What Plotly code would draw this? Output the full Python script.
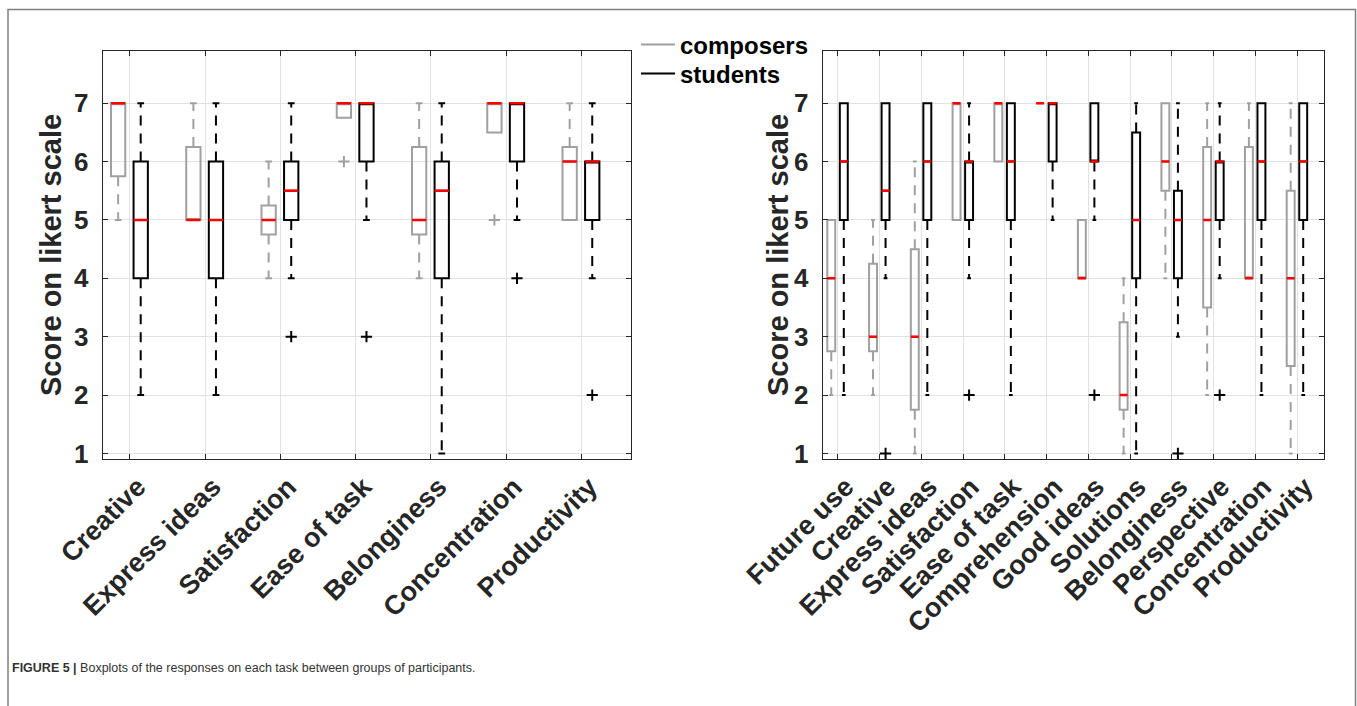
import plotly.graph_objects as go

# ---------------- data ----------------
LEFT_CATS = ["Creative", "Express ideas", "Satisfaction", "Ease of task",
             "Belonginess", "Concentration", "Productivity"]

LEFT_COMP_Q1 = [5.75, 5, 4.75, 6.75, 4.75, 6.5, 5]
LEFT_COMP_MED = [7, 5, 5, 7, 5, 7, 6]
LEFT_COMP_Q3 = [7, 6.25, 5.25, 7, 6.25, 7, 6.25]
LEFT_COMP_LW = [5, 5, 4, 6.75, 4, 6.5, 5]
LEFT_COMP_UW = [7, 7, 6, 7, 7, 7, 7]
LEFT_COMP_OUT = [[], [], [], [6], [], [5], []]

LEFT_STUD_Q1 = [4, 4, 5, 6, 4, 6, 5]
LEFT_STUD_MED = [5, 5, 5.5, 7, 5.5, 7, 6]
LEFT_STUD_Q3 = [6, 6, 6, 7, 6, 7, 6]
LEFT_STUD_LW = [2, 2, 4, 5, 1, 5, 4]
LEFT_STUD_UW = [7, 7, 7, 7, 7, 7, 7]
LEFT_STUD_OUT = [[], [], [3], [3], [], [4], [2]]

RIGHT_CATS = ["Future use", "Creative", "Express ideas", "Satisfaction",
              "Ease of task", "Comprehension", "Good ideas", "Solutions",
              "Belonginess", "Perspective", "Concentration", "Productivity"]

RIGHT_COMP_Q1 = [2.75, 2.75, 1.75, 5, 6, 7, 4, 1.75, 5.5, 3.5, 4, 2.5]
RIGHT_COMP_MED = [4, 3, 3, 7, 7, 7, 4, 2, 6, 5, 4, 4]
RIGHT_COMP_Q3 = [5, 4.25, 4.5, 7, 7, 7, 5, 3.25, 7, 6.25, 6.25, 5.5]
RIGHT_COMP_LW = [2, 2, 1, 5, 6, 7, 4, 1, 4, 2, 4, 1]
RIGHT_COMP_UW = [5, 5, 6, 7, 7, 7, 5, 4, 7, 7, 7, 7]
RIGHT_COMP_OUT = [[], [], [], [], [], [], [], [], [], [], [], []]

RIGHT_STUD_Q1 = [5, 5, 5, 5, 5, 6, 6, 4, 4, 5, 5, 5]
RIGHT_STUD_MED = [6, 5.5, 6, 6, 6, 7, 6, 5, 5, 6, 6, 6]
RIGHT_STUD_Q3 = [7, 7, 7, 6, 7, 7, 7, 6.5, 5.5, 6, 7, 7]
RIGHT_STUD_LW = [2, 4, 2, 4, 2, 5, 5, 1, 3, 4, 2, 2]
RIGHT_STUD_UW = [7, 7, 7, 7, 7, 7, 7, 7, 7, 7, 7, 7]
RIGHT_STUD_OUT = [[], [1], [], [2], [], [], [2], [], [1], [2], [], []]

Y_TICKS = [1, 2, 3, 4, 5, 6, 7]
GROUPS = ["composers", "students"]

# ---------------- style ----------------
W, H = 1357, 706
GRAY = "#A0A0A0"
BLACK = "#000000"
RED = "#FF0000"
TXT = "#262626"
FONT = "Liberation Sans, Arial, sans-serif"
OFFSET = {"composers": -0.155, "students": 0.145}
COLOR = {"composers": GRAY, "students": BLACK}
BOXW = 0.19
CAPW = 0.09

fig = go.Figure()


def add_group(group, q1, med, q3, lw, uw, outs, xa, ya):
    color = COLOR[group]
    pos = [i + 1 + OFFSET[group] for i in range(len(q1))]
    fig.add_trace(go.Box(
        x=pos, q1=q1, median=med, q3=q3, lowerfence=q1, upperfence=q3,
        width=BOXW, line=dict(color=color, width=2),
        fillcolor="rgba(0,0,0,0)", whiskerwidth=0, boxpoints=False,
        xaxis=xa, yaxis=ya, showlegend=False, hoverinfo="skip"))
    wx, wy, cx, cy = [], [], [], []
    for p, a, b, lo, hi in zip(pos, q1, q3, lw, uw):
        if hi > b:
            wx += [p, p, None]; wy += [b, hi, None]
            cx += [p - CAPW / 2, p + CAPW / 2, None]; cy += [hi, hi, None]
        if lo < a:
            wx += [p, p, None]; wy += [a, lo, None]
            cx += [p - CAPW / 2, p + CAPW / 2, None]; cy += [lo, lo, None]
    fig.add_trace(go.Scatter(x=wx, y=wy, mode="lines", xaxis=xa, yaxis=ya,
                             line=dict(color=color, width=2, dash="10px,8px"),
                             showlegend=False, hoverinfo="skip"))
    fig.add_trace(go.Scatter(x=cx, y=cy, mode="lines", xaxis=xa, yaxis=ya,
                             line=dict(color=color, width=2),
                             showlegend=False, hoverinfo="skip"))
    mx, my = [], []
    for p, m in zip(pos, med):
        mx += [p - BOXW / 2, p + BOXW / 2, None]; my += [m, m, None]
    fig.add_trace(go.Scatter(x=mx, y=my, mode="lines", xaxis=xa, yaxis=ya,
                             line=dict(color=RED, width=2.5),
                             showlegend=False, hoverinfo="skip"))
    ox, oy = [], []
    for p, vals in zip(pos, outs):
        for v in vals:
            ox.append(p); oy.append(v)
    if ox:
        fig.add_trace(go.Scatter(
            x=ox, y=oy, mode="markers", xaxis=xa, yaxis=ya,
            marker=dict(symbol="cross-thin", size=8, color=color,
                        line=dict(color=color, width=2)),
            showlegend=False, hoverinfo="skip"))


add_group("composers", LEFT_COMP_Q1, LEFT_COMP_MED, LEFT_COMP_Q3,
          LEFT_COMP_LW, LEFT_COMP_UW, LEFT_COMP_OUT, "x", "y")
add_group("students", LEFT_STUD_Q1, LEFT_STUD_MED, LEFT_STUD_Q3,
          LEFT_STUD_LW, LEFT_STUD_UW, LEFT_STUD_OUT, "x", "y")
add_group("composers", RIGHT_COMP_Q1, RIGHT_COMP_MED, RIGHT_COMP_Q3,
          RIGHT_COMP_LW, RIGHT_COMP_UW, RIGHT_COMP_OUT, "x2", "y2")
add_group("students", RIGHT_STUD_Q1, RIGHT_STUD_MED, RIGHT_STUD_Q3,
          RIGHT_STUD_LW, RIGHT_STUD_UW, RIGHT_STUD_OUT, "x2", "y2")

# legend entries (one legend per entry so each row can be placed exactly)
LEG_ROWS = {"composers": ("legend", 45), "students": ("legend2", 74)}
for g in GROUPS:
    fig.add_trace(go.Scatter(x=[None], y=[None], mode="lines", name=g,
                             legend=LEG_ROWS[g][0],
                             line=dict(color=COLOR[g], width=2),
                             xaxis="x", yaxis="y"))

axis_common = dict(showline=True, linecolor=TXT, linewidth=1, mirror="ticks",
                   ticks="inside", ticklen=5, tickcolor=TXT, tickwidth=1,
                   showgrid=True, gridcolor="#E2E2E2", gridwidth=1,
                   zeroline=False, automargin=False)

y_dom = [1 - 459.3 / H, 1 - 50.7 / H]

leg_common = dict(x=636 / W, xanchor="left", yanchor="middle",
                  bgcolor="rgba(0,0,0,0)", borderwidth=0, itemwidth=34,
                  font=dict(family=FONT, size=24, color=BLACK, weight="bold"))

fig.update_layout(
    width=W, height=H,
    margin=dict(l=0, r=0, t=0, b=0),
    paper_bgcolor="white", plot_bgcolor="white",
    boxmode="overlay",
    xaxis=dict(domain=[102.7 / W, 631.0 / W], range=[0.64, len(LEFT_CATS) + 0.66],
               tickvals=list(range(1, len(LEFT_CATS) + 1)), ticktext=LEFT_CATS,
               tickangle=-45, anchor="y", ticklabelshift=8,
               tickfont=dict(family=FONT, size=27, color=TXT, weight="bold"),
               **axis_common),
    yaxis=dict(domain=y_dom, range=[0.9, 7.9], tickvals=Y_TICKS, anchor="x",
               ticklabelstandoff=8,
               tickfont=dict(family=FONT, size=26, color=TXT, weight="bold"),
               **axis_common),
    xaxis2=dict(domain=[822.7 / W, 1324.3 / W], range=[0.64, len(RIGHT_CATS) + 0.65],
                tickvals=list(range(1, len(RIGHT_CATS) + 1)), ticktext=RIGHT_CATS,
                tickangle=-45, anchor="y2", ticklabelshift=8,
                tickfont=dict(family=FONT, size=27, color=TXT, weight="bold"),
                **axis_common),
    yaxis2=dict(domain=y_dom, range=[0.9, 7.9], tickvals=Y_TICKS, anchor="x2",
                ticklabelstandoff=8,
                tickfont=dict(family=FONT, size=26, color=TXT, weight="bold"),
                **axis_common),
    legend=dict(y=1 - LEG_ROWS["composers"][1] / H, **leg_common),
    legend2=dict(y=1 - LEG_ROWS["students"][1] / H, **leg_common),
    showlegend=True,
)

ymid = (y_dom[0] + y_dom[1]) / 2
for xc in (51 / W, 778 / W):
    fig.add_annotation(x=xc, y=ymid, xref="paper", yref="paper",
                       text="Score on likert scale", textangle=-90,
                       showarrow=False, xanchor="center", yanchor="middle",
                       font=dict(family=FONT, size=29, color=TXT, weight="bold"))

fig.add_annotation(x=10 / W, y=1 - 668 / H, xref="paper", yref="paper",
                   text="<b>FIGURE 5 |</b> Boxplots of the responses on each task between groups of participants.",
                   showarrow=False, xanchor="left", yanchor="middle",
                   font=dict(family=FONT, size=12.5, color="#333333"))

fig.add_shape(type="rect", xref="paper", yref="paper",
              x0=8 / W, x1=1355.5 / W, y0=-0.05, y1=1 - 9.5 / H,
              line=dict(color="#7F7F7F", width=1.5), layer="below")

fig.write_html("out.html", config={"displayModeBar": False},
               post_script="document.body.style.margin='0px';")
